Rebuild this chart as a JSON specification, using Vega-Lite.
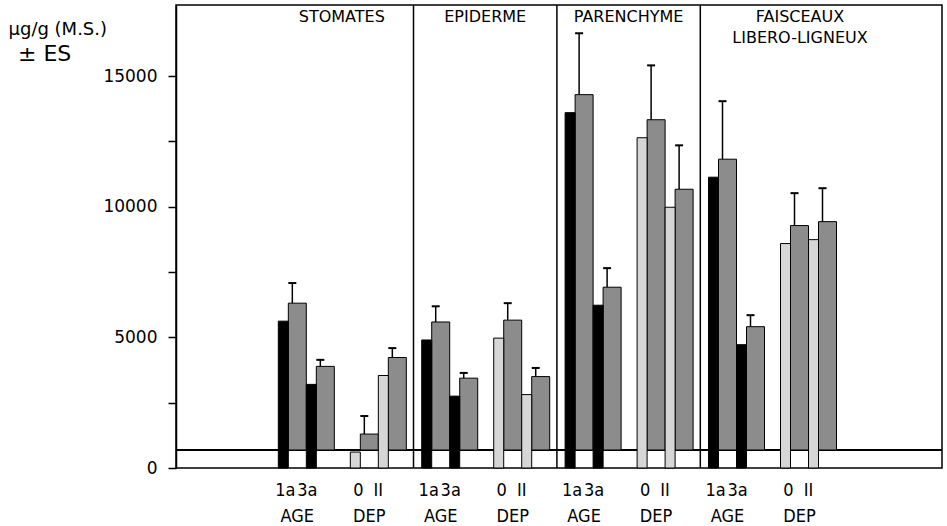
{
  "$schema": "https://vega.github.io/schema/vega-lite/v6.json",
  "width": 766,
  "height": 463,
  "autosize": {"type": "none"},
  "padding": {"left": 176, "top": 5, "right": 5, "bottom": 58},
  "background": "white",
  "title": {"text": "± ES", "anchor": "start", "frame": "group", "font": "DejaVu Sans", "fontSize": 22, "fontWeight": "normal", "color": "black", "dx": -158, "dy": 62, "offset": 0},
  "datasets": {
    "bars": [
      {"tissue": "STOMATES", "factor": "AGE", "level": "1a", "value": 5620, "upper": 6390},
      {"tissue": "STOMATES", "factor": "AGE", "level": "3a", "value": 3200, "upper": 3450},
      {"tissue": "STOMATES", "factor": "DEP", "level": "0", "value": 610, "upper": 1300},
      {"tissue": "STOMATES", "factor": "DEP", "level": "II", "value": 3540, "upper": 3900},
      {"tissue": "EPIDERME", "factor": "AGE", "level": "1a", "value": 4900, "upper": 5500},
      {"tissue": "EPIDERME", "factor": "AGE", "level": "3a", "value": 2750, "upper": 2950},
      {"tissue": "EPIDERME", "factor": "DEP", "level": "0", "value": 4970, "upper": 5620},
      {"tissue": "EPIDERME", "factor": "DEP", "level": "II", "value": 2810, "upper": 3140},
      {"tissue": "PARENCHYME", "factor": "AGE", "level": "1a", "value": 13600, "upper": 15950},
      {"tissue": "PARENCHYME", "factor": "AGE", "level": "3a", "value": 6230, "upper": 6960},
      {"tissue": "PARENCHYME", "factor": "DEP", "level": "0", "value": 12640, "upper": 14720},
      {"tissue": "PARENCHYME", "factor": "DEP", "level": "II", "value": 9980, "upper": 11660},
      {"tissue": "FAISCEAUX LIBERO-LIGNEUX", "factor": "AGE", "level": "1a", "value": 11130, "upper": 13350},
      {"tissue": "FAISCEAUX LIBERO-LIGNEUX", "factor": "AGE", "level": "3a", "value": 4720, "upper": 5160},
      {"tissue": "FAISCEAUX LIBERO-LIGNEUX", "factor": "DEP", "level": "0", "value": 8590, "upper": 9830},
      {"tissue": "FAISCEAUX LIBERO-LIGNEUX", "factor": "DEP", "level": "II", "value": 8740, "upper": 10020}
    ]
  },
  "data": {"name": "bars"},
  "layer": [
    {
      "mark": {"type": "rule", "color": "black", "strokeWidth": 1},
      "encoding": {
        "y": {"datum": 690, "type": "quantitative", "scale": {"domain": [0, 17720], "nice": false}, "axis": {"title": "µg/g  (M.S.)", "values": [0, 2500, 5000, 7500, 10000, 12500, 15000], "labelExpr": "datum.value % 5000 === 0 ? datum.value : ''"}}
      }
    },
    {
      "transform": [{"filter": "datum.level == '1a' && datum.tissue != 'STOMATES'"}],
      "mark": {"type": "rule", "color": "black", "strokeWidth": 1.5, "xOffset": -71.7},
      "encoding": {
        "x": {"field": "tissue", "type": "nominal", "scale": {"domain": ["STOMATES", "EPIDERME", "PARENCHYME", "FAISCEAUX LIBERO-LIGNEUX"], "paddingInner": 0.114, "paddingOuter": 0.728, "align": 0.49}, "axis": null}
      }
    },
    {
      "transform": [{"filter": "datum.level == '1a'"}],
      "mark": {"type": "rule", "color": "black", "strokeWidth": 1.5, "xOffset": -49.5, "yOffset": -18, "y2Offset": -18},
      "encoding": {
        "x": {"field": "tissue", "type": "nominal", "axis": null},
        "y": {"field": "value", "type": "quantitative", "title": "µg/g  (M.S.)"},
        "y2": {"field": "upper"}
      }
    },
    {
      "transform": [{"filter": "datum.level == '3a'"}],
      "mark": {"type": "rule", "color": "black", "strokeWidth": 1.5, "xOffset": -21.5, "yOffset": -18, "y2Offset": -18},
      "encoding": {
        "x": {"field": "tissue", "type": "nominal", "axis": null},
        "y": {"field": "value", "type": "quantitative", "title": "µg/g  (M.S.)"},
        "y2": {"field": "upper"}
      }
    },
    {
      "transform": [{"filter": "datum.level == '0'"}],
      "mark": {"type": "rule", "color": "black", "strokeWidth": 1.5, "xOffset": 22.5, "yOffset": -18, "y2Offset": -18},
      "encoding": {
        "x": {"field": "tissue", "type": "nominal", "axis": null},
        "y": {"field": "value", "type": "quantitative", "title": "µg/g  (M.S.)"},
        "y2": {"field": "upper"}
      }
    },
    {
      "transform": [{"filter": "datum.level == 'II'"}],
      "mark": {"type": "rule", "color": "black", "strokeWidth": 1.5, "xOffset": 50.5, "yOffset": -18, "y2Offset": -18},
      "encoding": {
        "x": {"field": "tissue", "type": "nominal", "axis": null},
        "y": {"field": "value", "type": "quantitative", "title": "µg/g  (M.S.)"},
        "y2": {"field": "upper"}
      }
    },
    {
      "transform": [{"filter": "datum.level == '1a'"}],
      "mark": {"type": "tick", "orient": "horizontal", "color": "black", "size": 8, "thickness": 2, "opacity": 1, "xOffset": -49.5, "yOffset": -18},
      "encoding": {
        "x": {"field": "tissue", "type": "nominal", "axis": null},
        "y": {"field": "upper", "type": "quantitative", "title": "µg/g  (M.S.)"}
      }
    },
    {
      "transform": [{"filter": "datum.level == '3a'"}],
      "mark": {"type": "tick", "orient": "horizontal", "color": "black", "size": 8, "thickness": 2, "opacity": 1, "xOffset": -21.5, "yOffset": -18},
      "encoding": {
        "x": {"field": "tissue", "type": "nominal", "axis": null},
        "y": {"field": "upper", "type": "quantitative", "title": "µg/g  (M.S.)"}
      }
    },
    {
      "transform": [{"filter": "datum.level == '0'"}],
      "mark": {"type": "tick", "orient": "horizontal", "color": "black", "size": 8, "thickness": 2, "opacity": 1, "xOffset": 22.5, "yOffset": -18},
      "encoding": {
        "x": {"field": "tissue", "type": "nominal", "axis": null},
        "y": {"field": "upper", "type": "quantitative", "title": "µg/g  (M.S.)"}
      }
    },
    {
      "transform": [{"filter": "datum.level == 'II'"}],
      "mark": {"type": "tick", "orient": "horizontal", "color": "black", "size": 8, "thickness": 2, "opacity": 1, "xOffset": 50.5, "yOffset": -18},
      "encoding": {
        "x": {"field": "tissue", "type": "nominal", "axis": null},
        "y": {"field": "upper", "type": "quantitative", "title": "µg/g  (M.S.)"}
      }
    },
    {
      "transform": [{"filter": "datum.level == '1a'"}],
      "mark": {"type": "bar", "width": 18, "xOffset": -44.5, "yOffset": -18, "y2Offset": 0, "fill": "#8c8c8c", "stroke": "black", "strokeWidth": 1},
      "encoding": {
        "x": {"field": "tissue", "type": "nominal", "axis": null},
        "y": {"field": "value", "type": "quantitative", "title": "µg/g  (M.S.)"}
      }
    },
    {
      "transform": [{"filter": "datum.level == '3a'"}],
      "mark": {"type": "bar", "width": 18, "xOffset": -16.5, "yOffset": -18, "y2Offset": 0, "fill": "#8c8c8c", "stroke": "black", "strokeWidth": 1},
      "encoding": {
        "x": {"field": "tissue", "type": "nominal", "axis": null},
        "y": {"field": "value", "type": "quantitative", "title": "µg/g  (M.S.)"}
      }
    },
    {
      "transform": [{"filter": "datum.level == '0'"}],
      "mark": {"type": "bar", "width": 18, "xOffset": 27.5, "yOffset": -18, "y2Offset": 0, "fill": "#8c8c8c", "stroke": "black", "strokeWidth": 1},
      "encoding": {
        "x": {"field": "tissue", "type": "nominal", "axis": null},
        "y": {"field": "value", "type": "quantitative", "title": "µg/g  (M.S.)"}
      }
    },
    {
      "transform": [{"filter": "datum.level == 'II'"}],
      "mark": {"type": "bar", "width": 18, "xOffset": 55.5, "yOffset": -18, "y2Offset": 0, "fill": "#8c8c8c", "stroke": "black", "strokeWidth": 1},
      "encoding": {
        "x": {"field": "tissue", "type": "nominal", "axis": null},
        "y": {"field": "value", "type": "quantitative", "title": "µg/g  (M.S.)"}
      }
    },
    {
      "transform": [{"filter": "datum.level == '1a'"}],
      "mark": {"type": "bar", "width": 10, "xOffset": -58.5, "stroke": "black", "strokeWidth": 1},
      "encoding": {
        "x": {"field": "tissue", "type": "nominal", "axis": null},
        "y": {"field": "value", "type": "quantitative", "title": "µg/g  (M.S.)"},
        "fill": {"field": "factor", "type": "nominal", "scale": {"domain": ["AGE", "DEP"], "range": ["#000000", "#d6d6d6"]}, "legend": null}
      }
    },
    {
      "transform": [{"filter": "datum.level == '3a'"}],
      "mark": {"type": "bar", "width": 10, "xOffset": -30.5, "stroke": "black", "strokeWidth": 1},
      "encoding": {
        "x": {"field": "tissue", "type": "nominal", "axis": null},
        "y": {"field": "value", "type": "quantitative", "title": "µg/g  (M.S.)"},
        "fill": {"field": "factor", "type": "nominal", "legend": null}
      }
    },
    {
      "transform": [{"filter": "datum.level == '0'"}],
      "mark": {"type": "bar", "width": 10, "xOffset": 13.5, "stroke": "black", "strokeWidth": 1},
      "encoding": {
        "x": {"field": "tissue", "type": "nominal", "axis": null},
        "y": {"field": "value", "type": "quantitative", "title": "µg/g  (M.S.)"},
        "fill": {"field": "factor", "type": "nominal", "legend": null}
      }
    },
    {
      "transform": [{"filter": "datum.level == 'II'"}],
      "mark": {"type": "bar", "width": 10, "xOffset": 41.5, "stroke": "black", "strokeWidth": 1},
      "encoding": {
        "x": {"field": "tissue", "type": "nominal", "axis": null},
        "y": {"field": "value", "type": "quantitative", "title": "µg/g  (M.S.)"},
        "fill": {"field": "factor", "type": "nominal", "legend": null}
      }
    },
    {
      "transform": [{"filter": "datum.level == '1a'"}],
      "mark": {"type": "text", "dx": -56.5, "dy": 28, "baseline": "alphabetic", "align": "center", "fontSize": 18, "font": "'Liberation Sans Narrow', 'DejaVu Sans Condensed', 'Liberation Sans', sans-serif", "color": "black"},
      "encoding": {
        "x": {"field": "tissue", "type": "nominal", "axis": null},
        "y": {"datum": 0, "type": "quantitative", "title": "µg/g  (M.S.)"},
        "text": {"field": "level"}
      }
    },
    {
      "transform": [{"filter": "datum.level == '3a'"}],
      "mark": {"type": "text", "dx": -34.5, "dy": 28, "baseline": "alphabetic", "align": "center", "fontSize": 18, "font": "'Liberation Sans Narrow', 'DejaVu Sans Condensed', 'Liberation Sans', sans-serif", "color": "black"},
      "encoding": {
        "x": {"field": "tissue", "type": "nominal", "axis": null},
        "y": {"datum": 0, "type": "quantitative", "title": "µg/g  (M.S.)"},
        "text": {"field": "level"}
      }
    },
    {
      "transform": [{"filter": "datum.level == '0'"}],
      "mark": {"type": "text", "dx": 16.5, "dy": 28, "baseline": "alphabetic", "align": "center", "fontSize": 18, "font": "'Liberation Sans Narrow', 'DejaVu Sans Condensed', 'Liberation Sans', sans-serif", "color": "black"},
      "encoding": {
        "x": {"field": "tissue", "type": "nominal", "axis": null},
        "y": {"datum": 0, "type": "quantitative", "title": "µg/g  (M.S.)"},
        "text": {"field": "level"}
      }
    },
    {
      "transform": [{"filter": "datum.level == 'II'"}],
      "mark": {"type": "text", "dx": 36.5, "dy": 28, "baseline": "alphabetic", "align": "center", "fontSize": 18, "font": "'Liberation Sans Narrow', 'DejaVu Sans Condensed', 'Liberation Sans', sans-serif", "color": "black"},
      "encoding": {
        "x": {"field": "tissue", "type": "nominal", "axis": null},
        "y": {"datum": 0, "type": "quantitative", "title": "µg/g  (M.S.)"},
        "text": {"field": "level"}
      }
    },
    {
      "transform": [{"filter": "datum.level == '1a'"}],
      "mark": {"type": "text", "dx": -44.5, "dy": 54, "baseline": "alphabetic", "align": "center", "fontSize": 18, "font": "'Liberation Sans Narrow', 'DejaVu Sans Condensed', 'Liberation Sans', sans-serif", "color": "black"},
      "encoding": {
        "x": {"field": "tissue", "type": "nominal", "axis": null},
        "y": {"datum": 0, "type": "quantitative", "title": "µg/g  (M.S.)"},
        "text": {"field": "factor"}
      }
    },
    {
      "transform": [{"filter": "datum.level == '0'"}],
      "mark": {"type": "text", "dx": 27.5, "dy": 54, "baseline": "alphabetic", "align": "center", "fontSize": 18, "font": "'Liberation Sans Narrow', 'DejaVu Sans Condensed', 'Liberation Sans', sans-serif", "color": "black"},
      "encoding": {
        "x": {"field": "tissue", "type": "nominal", "axis": null},
        "y": {"datum": 0, "type": "quantitative", "title": "µg/g  (M.S.)"},
        "text": {"field": "factor"}
      }
    },
    {
      "transform": [{"filter": "datum.level == '1a' && datum.tissue != 'FAISCEAUX LIBERO-LIGNEUX'"}],
      "mark": {"type": "text", "baseline": "alphabetic", "align": "center", "fontSize": 16, "font": "DejaVu Sans", "color": "black"},
      "encoding": {
        "x": {"field": "tissue", "type": "nominal", "axis": null},
        "y": {"datum": 17070, "type": "quantitative", "title": "µg/g  (M.S.)"},
        "text": {"field": "tissue"}
      }
    },
    {
      "transform": [{"filter": "datum.level == '1a' && datum.tissue == 'FAISCEAUX LIBERO-LIGNEUX'"}],
      "mark": {"type": "text", "baseline": "alphabetic", "align": "center", "fontSize": 16, "font": "DejaVu Sans", "color": "black", "lineBreak": " ", "lineHeight": 21, "dx": 28},
      "encoding": {
        "x": {"field": "tissue", "type": "nominal", "axis": null},
        "y": {"datum": 17070, "type": "quantitative", "title": "µg/g  (M.S.)"},
        "text": {"field": "tissue"}
      }
    }
  ],
  "config": {
    "view": {"stroke": "black", "strokeWidth": 1.5},
    "axisY": {
      "grid": false,
      "domainColor": "black",
      "domainWidth": 1.5,
      "tickColor": "black",
      "tickWidth": 1.5,
      "tickSize": 8,
      "labelFont": "DejaVu Sans",
      "labelFontSize": 17,
      "labelColor": "black",
      "labelPadding": 11,
      "titleFont": "DejaVu Sans",
      "titleFontSize": 18,
      "titleFontWeight": "normal",
      "titleColor": "black",
      "titleAngle": 0,
      "titleAlign": "left",
      "titleBaseline": "alphabetic",
      "titleX": -168,
      "titleY": 29
    }
  }
}
